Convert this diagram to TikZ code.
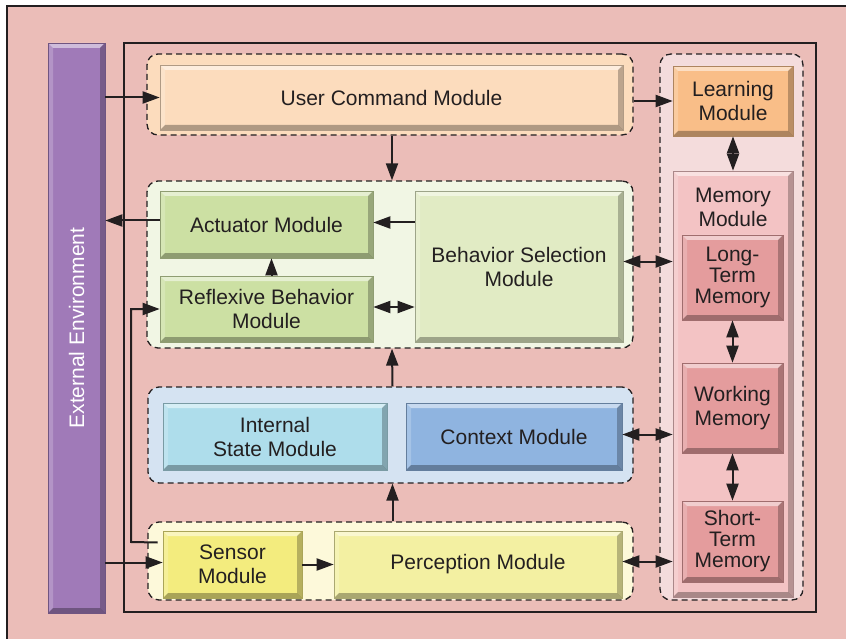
\documentclass[tikz,border=0pt]{standalone}
\usepackage{fontspec}
\setmainfont{Liberation Sans}
\usetikzlibrary{arrows.meta}

\definecolor{bgpink}{RGB}{235,189,184}
\definecolor{txtdark}{RGB}{35,31,32}
\definecolor{envpurple}{RGB}{160,122,184}
\definecolor{ucmpeach}{RGB}{252,220,189}
\definecolor{learnorange}{RGB}{249,190,136}
\definecolor{grpright}{RGB}{244,220,220}
\definecolor{mempink}{RGB}{243,195,196}
\definecolor{memred}{RGB}{228,156,157}
\definecolor{grpgreen}{RGB}{241,246,228}
\definecolor{actgreen}{RGB}{204,224,163}
\definecolor{selgreen}{RGB}{225,235,196}
\definecolor{grpblue}{RGB}{213,227,242}
\definecolor{ismcyan}{RGB}{174,221,235}
\definecolor{ctxblue}{RGB}{143,180,224}
\definecolor{grpyellow}{RGB}{253,249,218}
\definecolor{senyellow}{RGB}{243,236,126}
\definecolor{peryellow}{RGB}{243,240,162}

\tikzset{
  bevel/.style={path picture={
    \fill[white,opacity=.5] (path picture bounding box.north west) -- (path picture bounding box.north east)
      -- ([shift={(-5pt,-5pt)}]path picture bounding box.north east) -- ([shift={(5pt,-5pt)}]path picture bounding box.north west) -- cycle;
    \fill[white,opacity=.2] (path picture bounding box.north west) -- (path picture bounding box.south west)
      -- ([shift={(5pt,5pt)}]path picture bounding box.south west) -- ([shift={(5pt,-5pt)}]path picture bounding box.north west) -- cycle;
    \fill[black,opacity=.25] (path picture bounding box.north east) -- (path picture bounding box.south east)
      -- ([shift={(-5pt,5pt)}]path picture bounding box.south east) -- ([shift={(-5pt,-5pt)}]path picture bounding box.north east) -- cycle;
    \fill[black,opacity=.3] (path picture bounding box.south west) -- (path picture bounding box.south east)
      -- ([shift={(-5pt,5pt)}]path picture bounding box.south east) -- ([shift={(5pt,5pt)}]path picture bounding box.south west) -- cycle;
  }},
  module/.style={draw=#1!70!black, line width=0.6pt, fill=#1, bevel, align=center,
    text=txtdark, font=\fontsize{21}{24}\selectfont, inner sep=0pt},
  group/.style={draw=txtdark, dashed, dash pattern=on 6pt off 4pt, line width=1.3pt,
    rounded corners=11pt, fill=#1, inner sep=0pt},
  tip/.tip={Triangle[length=17pt,width=12pt]},
  link/.style={draw=txtdark, line width=2pt, -tip},
  dlink/.style={draw=txtdark, line width=2pt, tip-tip},
}

\begin{document}
\begin{tikzpicture}[x=1pt,y=-1pt]
  \useasboundingbox (0,0) rectangle (846,639);

  % Background and frames
  \fill[bgpink] (7,6) rectangle (846,639);
  \draw[txtdark, line width=1.2pt] (7,639) -- (7,6) -- (846,6);
  \draw[txtdark, line width=1.4pt] (124,43) rectangle (816,612);

  % Dashed groups
  \node[group=ucmpeach, minimum width=486, minimum height=81] (gucm) at (390,94.5) {};
  \node[group=grpgreen, minimum width=486, minimum height=167] (gbeh) at (390,264.5) {};
  \node[group=grpblue, minimum width=485, minimum height=96] (gint) at (390.5,435) {};
  \node[group=grpyellow, minimum width=485, minimum height=78] (gsen) at (390.5,561) {};
  \node[group=grpright, minimum width=143, minimum height=546] (gmem) at (731.5,327) {};

  % External environment
  \node[module=envpurple, minimum width=57, minimum height=570] (env) at (76.5,328) {};
  \node[rotate=90, text=white, font=\fontsize{21}{24}\selectfont] (envlbl) at (env.center) {External Environment};

  % Modules
  \node[module=ucmpeach, minimum width=463, minimum height=65] (ucm) at (391.5,97.5) {User Command Module};
  \node[module=learnorange, minimum width=120, minimum height=70] (learn) at (733,101) {Learning\\Module};
  \node[module=actgreen, minimum width=213, minimum height=67] (act) at (266.5,224.5) {Actuator Module};
  \node[module=actgreen, minimum width=213, minimum height=66] (refl) at (266.5,309) {Reflexive Behavior\\Module};
  \node[module=selgreen, minimum width=208, minimum height=151] (bsel) at (519,266.5) {Behavior Selection\\Module};
  \node[module=ismcyan, minimum width=224, minimum height=67] (ism) at (275,436.5) {Internal\\State Module};
  \node[module=ctxblue, minimum width=216, minimum height=67] (ctx) at (514,436.5) {Context Module};
  \node[module=senyellow, minimum width=139, minimum height=67] (sen) at (232.5,564.5) {Sensor\\Module};
  \node[module=peryellow, minimum width=288, minimum height=67] (per) at (478,564.5) {Perception Module};

  % Memory module and its parts
  \node[module=mempink, minimum width=120, minimum height=426] (mem) at (733,384) {};
  \node[align=center, text=txtdark, font=\fontsize{21}{24}\selectfont] (memlbl) at (733,207) {Memory\\Module};
  \node[module=memred, minimum width=101, minimum height=85, font=\fontsize{21}{21}\selectfont] (ltm) at (732.5,277.5) {Long-\\Term\\Memory};
  \node[module=memred, minimum width=101, minimum height=90] (wm) at (732.5,408) {Working\\Memory};
  \node[module=memred, minimum width=101, minimum height=81, font=\fontsize{21}{21}\selectfont] (stm) at (732.5,541.5) {Short-\\Term\\Memory};

  % Connectors
  \draw[link] (env.east |- ucm.west) -- (ucm.west);
  \draw[link] (gucm.east |- learn.west) -- (learn.west);
  \draw[link] ([xshift=2pt]gucm.south) -- ([xshift=2pt]gbeh.north);
  \draw[link] ([yshift=4pt]act.west) -- ([yshift=4pt]env.east |- act.west);
  \draw[link] ([yshift=2pt]bsel.west |- act.east) -- ([yshift=2pt]act.east);
  \draw[link] ([xshift=5pt]refl.north) -- ([xshift=5pt]act.south);
  \draw[dlink] ([yshift=2pt]refl.east) -- ([yshift=2pt]bsel.west |- refl.east);
  \draw[dlink] ([yshift=5pt]bsel.east) -- ([yshift=5pt]mem.west |- bsel.east);
  \draw[link] ([xshift=2pt]gint.north) -- ([xshift=2pt]gbeh.south);
  \draw[link] ([xshift=2pt]gsen.north) -- ([xshift=2pt]gint.south);
  \draw[link] (sen.east) -- (per.west);
  \draw[link] ([yshift=2pt]env.east |- sen.west) -- ([yshift=2pt]sen.west);
  \draw[link] ([xshift=-5pt,yshift=22pt]sen.west) -- (131,542) |- (refl.west);
  \draw[dlink] ([yshift=2pt]ctx.east) -- ([yshift=2pt]mem.west |- ctx.east);
  \draw[dlink] ([yshift=3pt]per.east) -- ([yshift=3pt]mem.west |- per.east);
  \draw[dlink] (learn.south) -- (mem.north);
  \draw[dlink] (ltm.south) -- (wm.north);
  \draw[dlink] (wm.south) -- (stm.north);

\end{tikzpicture}
\end{document}
